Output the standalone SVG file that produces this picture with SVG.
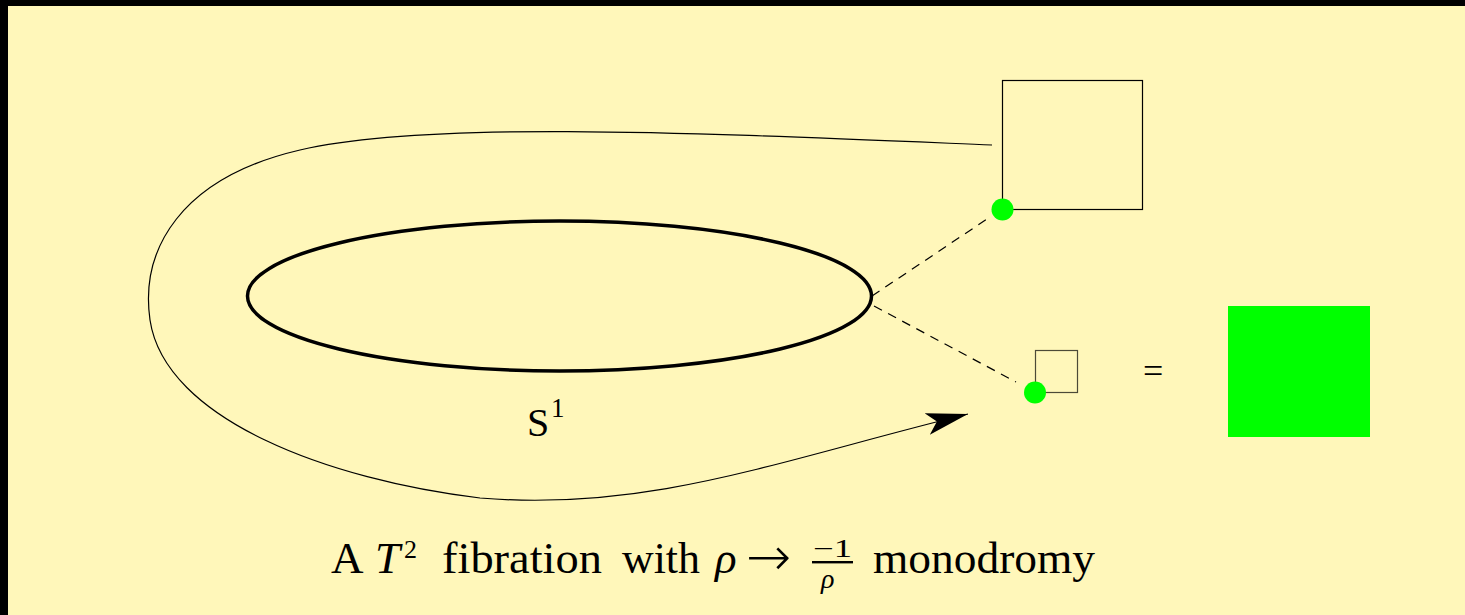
<svg xmlns="http://www.w3.org/2000/svg" width="1465" height="615" viewBox="0 0 1465 615">
<style>
.serif{font-family:"Liberation Serif","DejaVu Serif",serif;fill:#000}
.it{font-style:italic}
.thin{fill:none;stroke:#000;stroke-width:1.2}
.dash{fill:none;stroke:#000;stroke-width:1.2;stroke-dasharray:9,7}
.dot{fill:#00FF00}
</style>
<defs>
<marker id="arr" markerUnits="userSpaceOnUse" markerWidth="50" markerHeight="30" refX="42" refY="11" orient="auto" viewBox="0 0 50 30">
<path d="M42,11 L0,0 L10,11 L0,22 Z" fill="#000"/>
</marker>
</defs>
<rect x="0" y="0" width="1465" height="615" fill="#000"/>
<rect x="8" y="6" width="1457" height="609" fill="#FFF7BA"/>
<g id="connectors">
<path class="thin" d="M992,145 C700,133 430,120 300,150 C180,178 140,250 150,320 C165,420 330,480 480,498 C650,512 780,460 968,414" marker-end="url(#arr)"/>
<line class="dash" x1="872" y1="296" x2="990" y2="217"/>
<line class="dash" x1="874" y1="306" x2="1016" y2="382"/>
</g>
<g id="circle-S1">
<ellipse cx="559.5" cy="296" rx="312" ry="75" fill="none" stroke="#000" stroke-width="3.5"/>
<text class="serif" x="527" y="436" font-size="40">S</text>
<text class="serif" x="551" y="417" font-size="27">1</text>
</g>
<g id="big-torus">
<rect class="thin" x="1002.5" y="80.5" width="140" height="129"/>
<circle class="dot" cx="1002.5" cy="209.5" r="11"/>
</g>
<g id="small-torus">
<rect class="thin" x="1035.5" y="350.5" width="42" height="42" stroke-opacity="0.7"/>
<circle class="dot" cx="1035" cy="392.5" r="11"/>
</g>
<g id="equals">
<text class="serif" x="1143" y="383" font-size="36">=</text>
</g>
<g id="green-square">
<rect x="1228" y="306" width="142" height="131" fill="#00FF00"/>
</g>
<g id="caption" class="serif" font-size="45">
<text x="331" y="573">A</text>
<text class="it" x="375" y="573">T</text>
<text x="404" y="558" font-size="26">2</text>
<text x="442" y="573" textLength="160" lengthAdjust="spacingAndGlyphs">fibration</text>
<text x="622" y="573" textLength="78" lengthAdjust="spacingAndGlyphs">with</text>
<text class="it" x="715" y="573">ρ</text>
<text x="746" y="575" font-size="54" style="font-family:'DejaVu Sans',sans-serif;font-weight:200">→</text>
<text x="813" y="557" font-size="25" textLength="39" lengthAdjust="spacingAndGlyphs">−1</text>
<rect x="812" y="561" width="41" height="2.4" fill="#000"/>
<text class="it" x="821" y="588" font-size="28">ρ</text>
<text x="873" y="573" textLength="222" lengthAdjust="spacingAndGlyphs">monodromy</text>
</g>
</svg>
